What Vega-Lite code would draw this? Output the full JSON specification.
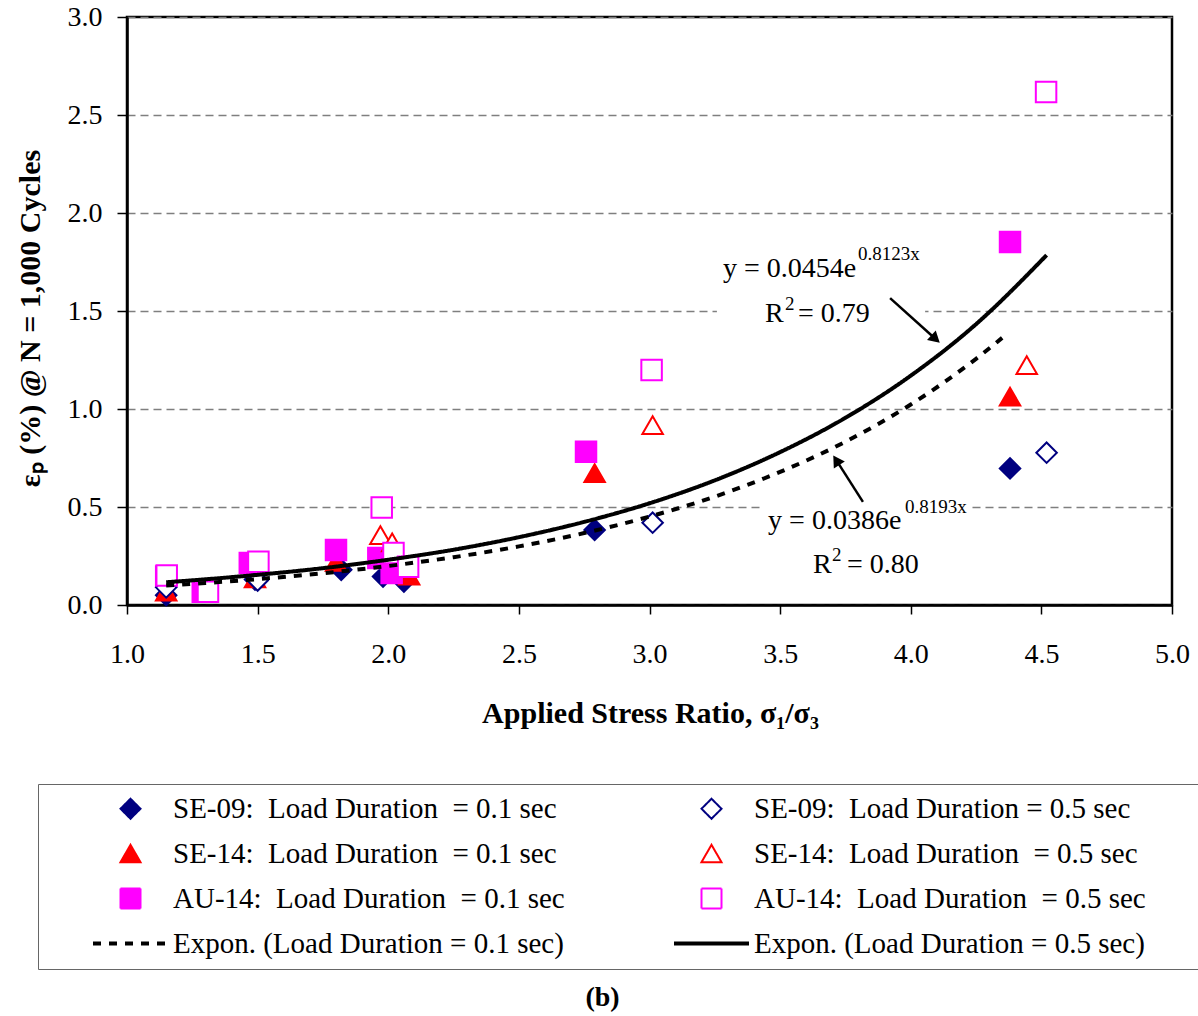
{
  "$schema": "https://vega.github.io/schema/vega-lite/v6.json",
  "width": 1045,
  "height": 588,
  "autosize": {"type": "none"},
  "padding": {"left": 127, "top": 17, "right": 26, "bottom": 411},
  "background": "white",
  "title": {"text": "(b)", "orient": "bottom", "anchor": "middle", "frame": "group", "font": "Liberation Serif", "fontSize": 28, "fontWeight": "bold", "color": "black", "offset": 14, "dx": -47},
  "datasets": {
    "points": [
      {"series": "SE-09 (0.1 s)", "ratio": 1.15, "strain": 0.05},
      {"series": "SE-09 (0.1 s)", "ratio": 1.49, "strain": 0.13},
      {"series": "SE-09 (0.1 s)", "ratio": 1.82, "strain": 0.18},
      {"series": "SE-09 (0.1 s)", "ratio": 1.98, "strain": 0.145},
      {"series": "SE-09 (0.1 s)", "ratio": 2.06, "strain": 0.12},
      {"series": "SE-09 (0.1 s)", "ratio": 2.79, "strain": 0.383},
      {"series": "SE-09 (0.1 s)", "ratio": 4.38, "strain": 0.697},
      {"series": "SE-14 (0.1 s)", "ratio": 1.15, "strain": 0.068},
      {"series": "SE-14 (0.1 s)", "ratio": 1.49, "strain": 0.136},
      {"series": "SE-14 (0.1 s)", "ratio": 1.80, "strain": 0.22},
      {"series": "SE-14 (0.1 s)", "ratio": 2.08, "strain": 0.15},
      {"series": "SE-14 (0.1 s)", "ratio": 2.79, "strain": 0.673},
      {"series": "SE-14 (0.1 s)", "ratio": 4.38, "strain": 1.063},
      {"series": "AU-14 (0.1 s)", "ratio": 1.15, "strain": 0.145},
      {"series": "AU-14 (0.1 s)", "ratio": 1.29, "strain": 0.068},
      {"series": "AU-14 (0.1 s)", "ratio": 1.47, "strain": 0.214},
      {"series": "AU-14 (0.1 s)", "ratio": 1.80, "strain": 0.28},
      {"series": "AU-14 (0.1 s)", "ratio": 1.962, "strain": 0.24},
      {"series": "AU-14 (0.1 s)", "ratio": 2.013, "strain": 0.163},
      {"series": "AU-14 (0.1 s)", "ratio": 2.757, "strain": 0.782},
      {"series": "AU-14 (0.1 s)", "ratio": 4.38, "strain": 1.852},
      {"series": "SE-09 (0.5 s)", "ratio": 1.15, "strain": 0.09},
      {"series": "SE-09 (0.5 s)", "ratio": 1.50, "strain": 0.125},
      {"series": "SE-09 (0.5 s)", "ratio": 3.012, "strain": 0.42},
      {"series": "SE-09 (0.5 s)", "ratio": 4.52, "strain": 0.777},
      {"series": "SE-14 (0.5 s)", "ratio": 1.97, "strain": 0.357},
      {"series": "SE-14 (0.5 s)", "ratio": 2.015, "strain": 0.32},
      {"series": "SE-14 (0.5 s)", "ratio": 3.012, "strain": 0.918},
      {"series": "SE-14 (0.5 s)", "ratio": 4.444, "strain": 1.224},
      {"series": "AU-14 (0.5 s)", "ratio": 1.152, "strain": 0.15},
      {"series": "AU-14 (0.5 s)", "ratio": 1.31, "strain": 0.068},
      {"series": "AU-14 (0.5 s)", "ratio": 1.503, "strain": 0.221},
      {"series": "AU-14 (0.5 s)", "ratio": 1.975, "strain": 0.498},
      {"series": "AU-14 (0.5 s)", "ratio": 2.02, "strain": 0.265},
      {"series": "AU-14 (0.5 s)", "ratio": 2.076, "strain": 0.195},
      {"series": "AU-14 (0.5 s)", "ratio": 3.008, "strain": 1.199},
      {"series": "AU-14 (0.5 s)", "ratio": 4.518, "strain": 2.617}
    ],
    "trends": [
      {"series": "Expon. (0.1 s)", "ratio": 1.15, "strain": 0.099},
      {"series": "Expon. (0.1 s)", "ratio": 1.3, "strain": 0.112},
      {"series": "Expon. (0.1 s)", "ratio": 1.5, "strain": 0.132},
      {"series": "Expon. (0.1 s)", "ratio": 1.75, "strain": 0.162},
      {"series": "Expon. (0.1 s)", "ratio": 2.0, "strain": 0.199},
      {"series": "Expon. (0.1 s)", "ratio": 2.25, "strain": 0.244},
      {"series": "Expon. (0.1 s)", "ratio": 2.5, "strain": 0.299},
      {"series": "Expon. (0.1 s)", "ratio": 2.75, "strain": 0.367},
      {"series": "Expon. (0.1 s)", "ratio": 3.0, "strain": 0.451},
      {"series": "Expon. (0.1 s)", "ratio": 3.25, "strain": 0.553},
      {"series": "Expon. (0.1 s)", "ratio": 3.5, "strain": 0.679},
      {"series": "Expon. (0.1 s)", "ratio": 3.75, "strain": 0.833},
      {"series": "Expon. (0.1 s)", "ratio": 4.0, "strain": 1.023},
      {"series": "Expon. (0.1 s)", "ratio": 4.25, "strain": 1.256},
      {"series": "Expon. (0.1 s)", "ratio": 4.35, "strain": 1.363},
      {"series": "Expon. (0.5 s)", "ratio": 1.15, "strain": 0.116},
      {"series": "Expon. (0.5 s)", "ratio": 1.3, "strain": 0.131},
      {"series": "Expon. (0.5 s)", "ratio": 1.5, "strain": 0.154},
      {"series": "Expon. (0.5 s)", "ratio": 1.75, "strain": 0.188},
      {"series": "Expon. (0.5 s)", "ratio": 2.0, "strain": 0.231},
      {"series": "Expon. (0.5 s)", "ratio": 2.25, "strain": 0.282},
      {"series": "Expon. (0.5 s)", "ratio": 2.5, "strain": 0.346},
      {"series": "Expon. (0.5 s)", "ratio": 2.75, "strain": 0.424},
      {"series": "Expon. (0.5 s)", "ratio": 3.0, "strain": 0.519},
      {"series": "Expon. (0.5 s)", "ratio": 3.25, "strain": 0.636},
      {"series": "Expon. (0.5 s)", "ratio": 3.5, "strain": 0.78},
      {"series": "Expon. (0.5 s)", "ratio": 3.75, "strain": 0.955},
      {"series": "Expon. (0.5 s)", "ratio": 4.0, "strain": 1.17},
      {"series": "Expon. (0.5 s)", "ratio": 4.25, "strain": 1.433},
      {"series": "Expon. (0.5 s)", "ratio": 4.52, "strain": 1.785}
    ],
    "boxes": [
      {"x1": 3.258, "x2": 4.055, "y1": 1.403, "y2": 1.837},
      {"x1": 3.423, "x2": 4.219, "y1": 0.102, "y2": 0.561}
    ],
    "notes": [
      {"ratio": 3.281, "strain": 1.673, "t": "y = 0.0454e"},
      {"ratio": 3.442, "strain": 1.444, "t": "R"},
      {"ratio": 3.568, "strain": 1.444, "t": "= 0.79"},
      {"ratio": 3.454, "strain": 0.388, "t": "y = 0.0386e"},
      {"ratio": 3.626, "strain": 0.163, "t": "R"},
      {"ratio": 3.756, "strain": 0.163, "t": "= 0.80"}
    ],
    "sups": [
      {"ratio": 3.798, "strain": 1.76, "t": "0.8123x"},
      {"ratio": 3.519, "strain": 1.505, "t": "2"},
      {"ratio": 3.978, "strain": 0.469, "t": "0.8193x"},
      {"ratio": 3.699, "strain": 0.224, "t": "2"}
    ],
    "arrows": [
      {"id": "upper", "x1": 3.921, "y1": 1.566, "x2": 4.095, "y2": 1.357},
      {"id": "lower", "x1": 3.817, "y1": 0.526, "x2": 3.715, "y2": 0.739}
    ]
  },
  "encoding": {
    "x": {"field": "ratio", "type": "quantitative", "scale": {"domain": [1, 5], "nice": false, "zero": false},
      "axis": {"values": [1, 1.5, 2, 2.5, 3, 3.5, 4, 4.5, 5], "format": ".1f", "grid": false, "labelFlush": false,
        "title": "Applied Stress Ratio, σ₁/σ₃", "titleX": 523, "titleY": 117, "titleBaseline": "alphabetic", "titleAlign": "center",
        "labelPadding": 26, "tickSize": 9}},
    "y": {"field": "strain", "type": "quantitative", "scale": {"domain": [0, 3], "nice": false},
      "axis": {"values": [0, 0.5, 1, 1.5, 2, 2.5, 3], "format": ".1f", "grid": true, "gridColor": "#7f7f7f", "gridDash": [8, 5], "gridWidth": 1.5, "labelFlush": false,
        "title": "εₚ (%) @ N = 1,000 Cycles", "titleX": -97, "titleY": 301, "titleBaseline": "middle", "titleAlign": "center", "titleAngle": -90,
        "labelPadding": 15, "tickSize": 10}}
  },
  "layer": [
    {
      "data": {"name": "boxes"},
      "mark": {"type": "rect", "fill": "white", "stroke": null},
      "encoding": {
        "x": {"field": "x1", "type": "quantitative"},
        "x2": {"field": "x2"},
        "y": {"field": "y1", "type": "quantitative"},
        "y2": {"field": "y2"}
      }
    },
    {
      "data": {"name": "points"},
      "mark": {"type": "point", "filled": true, "size": 420, "strokeWidth": 2, "opacity": 1},
      "encoding": {
        "shape": {"field": "series", "type": "nominal",
          "scale": {"domain": ["SE-09 (0.1 s)", "SE-14 (0.1 s)", "AU-14 (0.1 s)", "Expon. (0.1 s)", "SE-09 (0.5 s)", "SE-14 (0.5 s)", "AU-14 (0.5 s)", "Expon. (0.5 s)"],
            "range": ["diamond", "triangle-up", "square", "M-3.75,-0.1L3.75,-0.1M-3.75,0.1L3.75,0.1", "diamond", "triangle-up", "square", "M-3.75,-0.1L3.75,-0.1M-3.75,0.1L3.75,0.1"]},
          "legend": {"title": " ", "orient": "none", "legendX": -89, "legendY": 767, "columns": 2, "columnPadding": 105, "rowPadding": 15,
            "symbolSize": 400, "symbolStrokeWidth": 2, "labelFont": "Liberation Serif", "labelFontSize": 29, "labelColor": "black", "labelOffset": 28, "labelLimit": 0,
            "strokeColor": "#666666", "padding": 10, "titleOrient": "left", "titleFontSize": 2, "titlePadding": 68,
            "labelExpr": "datum.label=='SE-09 (0.1 s)'?'SE-09:\u00a0 Load Duration\u00a0 = 0.1 sec':datum.label=='SE-09 (0.5 s)'?'SE-09:\u00a0 Load Duration = 0.5 sec':datum.label=='SE-14 (0.1 s)'?'SE-14:\u00a0 Load Duration\u00a0 = 0.1 sec':datum.label=='SE-14 (0.5 s)'?'SE-14:\u00a0 Load Duration\u00a0 = 0.5 sec':datum.label=='AU-14 (0.1 s)'?'AU-14:\u00a0 Load Duration\u00a0 = 0.1 sec':datum.label=='AU-14 (0.5 s)'?'AU-14:\u00a0 Load Duration\u00a0 = 0.5 sec\u2800\u2800\u2800':datum.label=='Expon. (0.1 s)'?'Expon. (Load Duration = 0.1 sec)':'Expon. (Load Duration = 0.5 sec)'"}},
        "fill": {"field": "series", "type": "nominal",
          "scale": {"domain": ["SE-09 (0.1 s)", "SE-14 (0.1 s)", "AU-14 (0.1 s)", "Expon. (0.1 s)", "SE-09 (0.5 s)", "SE-14 (0.5 s)", "AU-14 (0.5 s)", "Expon. (0.5 s)"],
            "range": ["#000080", "#ff0000", "#ff00ff", "transparent", "#ffffff", "#ffffff", "#ffffff", "transparent"]},
          "legend": {"title": " "}},
        "stroke": {"field": "series", "type": "nominal",
          "scale": {"domain": ["SE-09 (0.1 s)", "SE-14 (0.1 s)", "AU-14 (0.1 s)", "Expon. (0.1 s)", "SE-09 (0.5 s)", "SE-14 (0.5 s)", "AU-14 (0.5 s)", "Expon. (0.5 s)"],
            "range": ["#000080", "#ff0000", "#ff00ff", "#000000", "#000080", "#ff0000", "#ff00ff", "#000000"]},
          "legend": {"title": " "}}
      }
    },
    {
      "data": {"name": "trends"},
      "mark": {"type": "line", "strokeWidth": 4, "interpolate": "monotone"},
      "encoding": {
        "stroke": {"field": "series", "type": "nominal", "legend": {"title": " "}},
        "strokeDash": {"field": "series", "type": "nominal",
          "scale": {"domain": ["SE-09 (0.1 s)", "SE-14 (0.1 s)", "AU-14 (0.1 s)", "Expon. (0.1 s)", "SE-09 (0.5 s)", "SE-14 (0.5 s)", "AU-14 (0.5 s)", "Expon. (0.5 s)"],
            "range": [[1, 0], [1, 0], [1, 0], [8, 8], [1, 0], [1, 0], [1, 0], [1, 0]]},
          "legend": {"title": " "}}
      }
    },
    {
      "data": {"name": "notes"},
      "mark": {"type": "text", "align": "left", "baseline": "alphabetic", "font": "Liberation Serif", "fontSize": 28, "color": "black"},
      "encoding": {"text": {"field": "t"}}
    },
    {
      "data": {"name": "sups"},
      "mark": {"type": "text", "align": "left", "baseline": "alphabetic", "font": "Liberation Serif", "fontSize": 19, "color": "black"},
      "encoding": {"text": {"field": "t"}}
    },
    {
      "data": {"name": "arrows"},
      "mark": {"type": "rule", "color": "black", "strokeWidth": 2.5},
      "encoding": {
        "x": {"field": "x1", "type": "quantitative"},
        "y": {"field": "y1", "type": "quantitative"},
        "x2": {"field": "x2"},
        "y2": {"field": "y2"}
      }
    },
    {
      "data": {"name": "arrows"},
      "transform": [{"filter": "datum.id == 'upper'"}],
      "mark": {"type": "point", "shape": "triangle-up", "filled": true, "color": "black", "size": 170, "angle": 132, "opacity": 1},
      "encoding": {
        "x": {"field": "x2", "type": "quantitative"},
        "y": {"field": "y2", "type": "quantitative"}
      }
    },
    {
      "data": {"name": "arrows"},
      "transform": [{"filter": "datum.id == 'lower'"}],
      "mark": {"type": "point", "shape": "triangle-up", "filled": true, "color": "black", "size": 170, "angle": 327.5, "opacity": 1},
      "encoding": {
        "x": {"field": "x2", "type": "quantitative"},
        "y": {"field": "y2", "type": "quantitative"}
      }
    }
  ],
  "config": {
    "font": "Liberation Serif",
    "view": {"stroke": "black", "strokeWidth": 2.5},
    "axis": {
      "labelFont": "Liberation Serif", "labelFontSize": 28, "labelColor": "black",
      "titleFont": "Liberation Serif", "titleFontSize": 30, "titleFontWeight": "bold", "titleColor": "black",
      "domainColor": "black", "domainWidth": 2.5, "tickColor": "black", "tickWidth": 1.5
    }
  }
}
